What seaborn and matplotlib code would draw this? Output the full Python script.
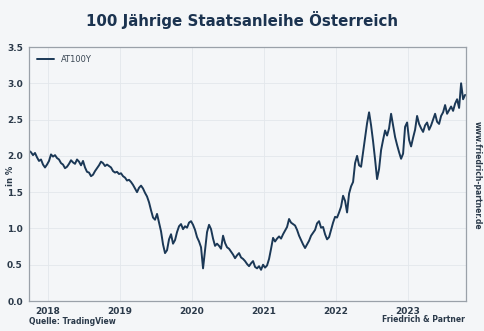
import numpy as np
import pandas as pd
import matplotlib
matplotlib.use("Agg")
import matplotlib.pyplot as plt
import seaborn as sns

# Yield of the Austrian 100-year government bond (in %), roughly every 10 days
start_date = "2017-09-27"
end_date = "2023-10-20"
yields = [
    2.07, 2.05, 2.01, 2.04, 1.98, 1.93, 1.95, 1.88, 1.84, 1.88,
    1.93, 2.02, 1.99, 2.01, 1.97, 1.95, 1.90, 1.88, 1.83, 1.85,
    1.89, 1.94, 1.91, 1.89, 1.95, 1.92, 1.87, 1.93, 1.84, 1.78,
    1.77, 1.72, 1.74, 1.79, 1.83, 1.87, 1.92, 1.90, 1.86, 1.88,
    1.86, 1.84, 1.79, 1.77, 1.78, 1.75, 1.76, 1.72, 1.70, 1.66,
    1.67, 1.64, 1.60, 1.55, 1.50, 1.56, 1.59, 1.55, 1.49, 1.44,
    1.36, 1.25, 1.15, 1.12, 1.20, 1.08, 0.96, 0.78, 0.66, 0.70,
    0.85, 0.92, 0.79, 0.84, 0.95, 1.03, 1.06, 0.99, 1.03, 1.01,
    1.08, 1.10, 1.05, 0.98, 0.88, 0.82, 0.74, 0.45, 0.70, 0.95,
    1.05, 0.99, 0.86, 0.76, 0.79, 0.76, 0.72, 0.90, 0.80, 0.74,
    0.72, 0.68, 0.64, 0.59, 0.63, 0.66, 0.60, 0.58, 0.55, 0.51,
    0.48, 0.52, 0.55, 0.47, 0.45, 0.48, 0.43, 0.50, 0.46, 0.49,
    0.58, 0.72, 0.87, 0.82, 0.86, 0.89, 0.86, 0.92, 0.97, 1.02,
    1.13, 1.08, 1.06, 1.04, 0.98, 0.90, 0.84, 0.78, 0.73, 0.78,
    0.83, 0.90, 0.94, 0.98, 1.07, 1.10, 1.01, 1.02, 0.92, 0.85,
    0.88, 0.98, 1.08, 1.16, 1.15, 1.22, 1.30, 1.45, 1.38, 1.22,
    1.48, 1.58, 1.64, 1.90, 2.00, 1.87, 1.85, 2.05, 2.25, 2.45,
    2.60, 2.42, 2.20, 1.95, 1.68, 1.82, 2.08, 2.22, 2.35, 2.28,
    2.38, 2.58, 2.42, 2.26, 2.15, 2.05, 1.96, 2.03, 2.40, 2.46,
    2.22, 2.13, 2.25, 2.36, 2.55, 2.44, 2.38, 2.33, 2.42, 2.46,
    2.36, 2.42, 2.50, 2.58, 2.47, 2.44, 2.55, 2.60, 2.70, 2.58,
    2.63, 2.68, 2.62, 2.72, 2.78, 2.66, 3.00, 2.78, 2.84,
]
series_name = "AT100Y"
year_ticks = ["2018", "2019", "2020", "2021", "2022", "2023"]
y_ticks = [0.0, 0.5, 1.0, 1.5, 2.0, 2.5, 3.0, 3.5]

dates = pd.date_range(start_date, end_date, periods=len(yields))
df = pd.DataFrame({"Datum": dates, "Rendite": yields, "Serie": series_name})

navy = "#1b3856"
bg = "#f4f6f8"
text_col = "#2b3a4a"

sns.set_theme(style="whitegrid")
plt.rcParams["font.family"] = ["DejaVu Sans"]

fig = plt.figure(figsize=(4.85, 3.31), dpi=100, facecolor=bg)
ax = fig.add_axes([0.0598, 0.0906, 0.9012, 0.7674])
ax.set_facecolor(bg)

sns.lineplot(data=df, x="Datum", y="Rendite", hue="Serie",
             palette=[navy], linewidth=1.4, ax=ax)

ax.set_xlim(pd.Timestamp("2017-09-27"), pd.Timestamp("2023-10-25"))
ax.set_ylim(0, 3.5)
ax.set_yticks(y_ticks)
ax.set_yticklabels([f"{v:.1f}" for v in y_ticks])
ax.set_xticks([pd.Timestamp(f"{y}-01-01") for y in year_ticks])
ax.set_xticklabels(year_ticks)

for lab in ax.get_xticklabels() + ax.get_yticklabels():
    lab.set_fontweight("bold")
    lab.set_fontsize(6.5)
    lab.set_color(text_col)
ax.tick_params(axis="both", length=2.5, width=0.6, color="#8a939d", pad=2)

ax.grid(True, color="#e3e7eb", linewidth=0.6)
for s in ax.spines.values():
    s.set_visible(True)
    s.set_color("#9aa1a9")
    s.set_linewidth(0.9)

ax.set_xlabel("")
ax.set_ylabel("")
fig.text(0.021, 0.47, "in %", rotation=90, ha="center", va="center",
         fontsize=6, fontweight="bold", color=text_col)

leg = ax.legend(loc="upper left", frameon=False, fontsize=6,
                handlelength=2.0, borderaxespad=0.6)
for t in leg.get_texts():
    t.set_color("#3a4754")

fig.text(0.5, 0.94, "100 Jährige Staatsanleihe Österreich", ha="center",
         va="center", fontsize=10.8, fontweight="bold", color="#1b3350")
fig.text(0.06, 0.028, "Quelle: TradingView", ha="left", va="center",
         fontsize=5.5, fontweight="bold", color=text_col)
fig.text(0.958, 0.034, "Friedrich & Partner", ha="right", va="center",
         fontsize=5.5, fontweight="bold", color=text_col)
fig.text(0.985, 0.47, "www.friedrich-partner.de", ha="center", va="center",
         rotation=-90, fontsize=5.5, fontweight="bold", color=text_col)

fig.savefig("out.png", dpi=100, facecolor=bg)
